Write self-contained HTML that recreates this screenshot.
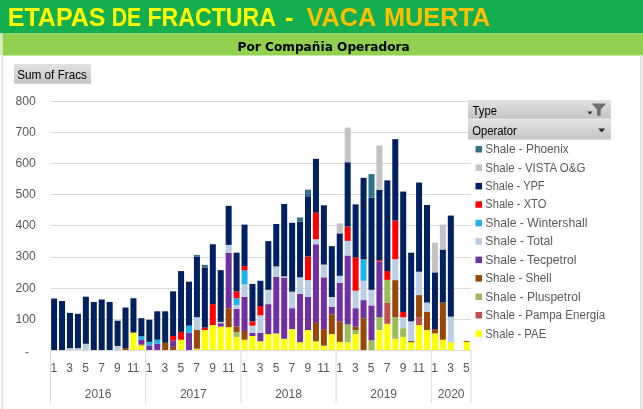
<!DOCTYPE html>
<html><head><meta charset="utf-8"><title>Etapas de Fractura - Vaca Muerta</title>
<style>
html,body{margin:0;padding:0;background:#fff;}
body{width:643px;height:409px;overflow:hidden;font-family:"Liberation Sans",sans-serif;}
svg{display:block;}
text{font-family:"Liberation Sans",sans-serif;}
.ax{fill:#595959;font-size:12px;}
.lg{fill:#595959;font-size:12px;}
.bt{fill:#000;font-size:12px;}
</style></head><body>
<svg width="643" height="409" viewBox="0 0 643 409">
<defs>
<linearGradient id="bg" x1="0" y1="0" x2="0" y2="1"><stop offset="0" stop-color="#e2e2e2"/><stop offset="1" stop-color="#c4c4c4"/></linearGradient>
</defs>
<rect x="0" y="0" width="643" height="409" fill="#ffffff"/>
<!-- header bands -->
<rect x="0" y="0" width="643" height="33.5" fill="#12AE50"/>
<rect x="2.5" y="33.5" width="640.5" height="22" fill="#92D050"/>
<!-- chart frame -->
<rect x="0" y="33.5" width="2.5" height="22" fill="#dbe9bd"/>
<rect x="1.2" y="55.5" width="2" height="353.5" fill="#e3e3e3"/>
<rect x="640.4" y="55.5" width="1.3" height="353.5" fill="#cfcfcf"/>
<rect x="641.7" y="55.5" width="1.3" height="353.5" fill="#f0f0f0"/>

<text x="7.8" y="25.7" textLength="97.6" lengthAdjust="spacingAndGlyphs" fill="#FFFF00" font-size="25" font-weight="bold">ETAPAS</text>
<text x="111.7" y="25.7" textLength="29.4" lengthAdjust="spacingAndGlyphs" fill="#FFFF00" font-size="25" font-weight="bold">DE</text>
<text x="147.4" y="25.7" textLength="128.6" lengthAdjust="spacingAndGlyphs" fill="#FFFF00" font-size="25" font-weight="bold">FRACTURA</text>
<text x="284.9" y="25.7" textLength="8.4" lengthAdjust="spacingAndGlyphs" fill="#FFFF00" font-size="25" font-weight="bold">-</text>
<text x="306.6" y="25.7" textLength="69.6" lengthAdjust="spacingAndGlyphs" fill="#FFC000" font-size="25" font-weight="bold">VACA</text>
<text x="384.0" y="25.7" textLength="106.2" lengthAdjust="spacingAndGlyphs" fill="#FFC000" font-size="25" font-weight="bold">MUERTA</text>
<text x="237.5" y="50.6" textLength="172.3" lengthAdjust="spacingAndGlyphs" fill="#000" font-size="12" font-weight="bold" style="font-family:'DejaVu Sans','Liberation Sans',sans-serif">Por Compañia Operadora</text>
<g stroke="#d9d9d9" stroke-width="1">
<line x1="50.5" y1="319.5" x2="471.0" y2="319.5"/>
<line x1="50.5" y1="288.5" x2="471.0" y2="288.5"/>
<line x1="50.5" y1="257.5" x2="471.0" y2="257.5"/>
<line x1="50.5" y1="225.5" x2="471.0" y2="225.5"/>
<line x1="50.5" y1="194.5" x2="471.0" y2="194.5"/>
<line x1="50.5" y1="163.5" x2="471.0" y2="163.5"/>
<line x1="50.5" y1="132.5" x2="471.0" y2="132.5"/>
<line x1="50.5" y1="101.5" x2="471.0" y2="101.5"/>
</g>
<line x1="50.5" y1="350.6" x2="471.0" y2="350.6" stroke="#d9d9d9" stroke-width="1"/>
<g shape-rendering="auto">
<rect x="51.12" y="298.54" width="6.0" height="51.46" fill="#002060"/>
<rect x="59.05" y="301.03" width="6.0" height="48.97" fill="#002060"/>
<rect x="66.98" y="348.13" width="6.0" height="1.87" fill="#B9CDE5"/>
<rect x="66.98" y="312.88" width="6.0" height="35.24" fill="#002060"/>
<rect x="74.92" y="348.13" width="6.0" height="1.87" fill="#B9CDE5"/>
<rect x="74.92" y="313.82" width="6.0" height="34.31" fill="#002060"/>
<rect x="82.85" y="343.76" width="6.0" height="6.24" fill="#B9CDE5"/>
<rect x="82.85" y="296.67" width="6.0" height="47.10" fill="#002060"/>
<rect x="90.79" y="301.97" width="6.0" height="48.03" fill="#002060"/>
<rect x="98.72" y="299.47" width="6.0" height="50.53" fill="#002060"/>
<rect x="106.65" y="301.97" width="6.0" height="48.03" fill="#002060"/>
<rect x="114.59" y="345.95" width="6.0" height="4.05" fill="#B9CDE5"/>
<rect x="114.59" y="320.68" width="6.0" height="25.26" fill="#002060"/>
<rect x="122.52" y="348.13" width="6.0" height="1.87" fill="#974706"/>
<rect x="122.52" y="307.58" width="6.0" height="40.55" fill="#002060"/>
<rect x="130.46" y="332.53" width="6.0" height="17.47" fill="#FFFF00"/>
<rect x="130.46" y="298.22" width="6.0" height="34.31" fill="#002060"/>
<rect x="138.39" y="345.32" width="6.0" height="4.68" fill="#FFFF00"/>
<rect x="138.39" y="344.39" width="6.0" height="0.94" fill="#974706"/>
<rect x="138.39" y="339.40" width="6.0" height="4.99" fill="#7030A0"/>
<rect x="138.39" y="336.28" width="6.0" height="3.12" fill="#1EB1ED"/>
<rect x="138.39" y="318.19" width="6.0" height="18.09" fill="#002060"/>
<rect x="146.32" y="345.32" width="6.0" height="4.68" fill="#7030A0"/>
<rect x="146.32" y="341.89" width="6.0" height="3.43" fill="#1EB1ED"/>
<rect x="146.32" y="319.75" width="6.0" height="22.14" fill="#002060"/>
<rect x="154.26" y="343.76" width="6.0" height="6.24" fill="#7030A0"/>
<rect x="154.26" y="339.71" width="6.0" height="4.05" fill="#1EB1ED"/>
<rect x="154.26" y="311.32" width="6.0" height="28.38" fill="#002060"/>
<rect x="162.19" y="342.83" width="6.0" height="7.17" fill="#974706"/>
<rect x="162.19" y="311.32" width="6.0" height="31.50" fill="#002060"/>
<rect x="170.13" y="346.88" width="6.0" height="3.12" fill="#974706"/>
<rect x="170.13" y="340.33" width="6.0" height="6.55" fill="#7030A0"/>
<rect x="170.13" y="335.96" width="6.0" height="4.37" fill="#FF0000"/>
<rect x="170.13" y="291.36" width="6.0" height="44.60" fill="#002060"/>
<rect x="178.06" y="339.71" width="6.0" height="10.29" fill="#FFFF00"/>
<rect x="178.06" y="331.91" width="6.0" height="7.80" fill="#FF0000"/>
<rect x="178.06" y="271.09" width="6.0" height="60.82" fill="#002060"/>
<rect x="185.99" y="332.85" width="6.0" height="17.15" fill="#7030A0"/>
<rect x="185.99" y="325.67" width="6.0" height="7.17" fill="#1EB1ED"/>
<rect x="185.99" y="281.69" width="6.0" height="43.98" fill="#002060"/>
<rect x="193.93" y="348.75" width="6.0" height="1.25" fill="#FFFF00"/>
<rect x="193.93" y="330.04" width="6.0" height="18.71" fill="#974706"/>
<rect x="193.93" y="317.25" width="6.0" height="12.79" fill="#B9CDE5"/>
<rect x="193.93" y="256.43" width="6.0" height="60.82" fill="#002060"/>
<rect x="193.93" y="254.87" width="6.0" height="1.56" fill="#31748A"/>
<rect x="201.86" y="330.04" width="6.0" height="19.96" fill="#FFFF00"/>
<rect x="201.86" y="327.54" width="6.0" height="2.50" fill="#FF0000"/>
<rect x="201.86" y="267.97" width="6.0" height="59.57" fill="#002060"/>
<rect x="201.86" y="264.85" width="6.0" height="3.12" fill="#31748A"/>
<rect x="209.80" y="325.05" width="6.0" height="24.95" fill="#FFFF00"/>
<rect x="209.80" y="304.15" width="6.0" height="20.90" fill="#FF0000"/>
<rect x="209.80" y="244.27" width="6.0" height="59.88" fill="#002060"/>
<rect x="217.73" y="326.61" width="6.0" height="23.39" fill="#FFFF00"/>
<rect x="217.73" y="323.18" width="6.0" height="3.43" fill="#7030A0"/>
<rect x="217.73" y="321.93" width="6.0" height="1.25" fill="#B9CDE5"/>
<rect x="217.73" y="270.15" width="6.0" height="51.78" fill="#002060"/>
<rect x="225.66" y="327.23" width="6.0" height="22.77" fill="#FFFF00"/>
<rect x="225.66" y="308.21" width="6.0" height="19.03" fill="#974706"/>
<rect x="225.66" y="252.69" width="6.0" height="55.52" fill="#7030A0"/>
<rect x="225.66" y="244.89" width="6.0" height="7.80" fill="#B9CDE5"/>
<rect x="225.66" y="205.90" width="6.0" height="38.99" fill="#002060"/>
<rect x="233.60" y="336.90" width="6.0" height="13.10" fill="#FFFF00"/>
<rect x="233.60" y="331.91" width="6.0" height="4.99" fill="#9BBB59"/>
<rect x="233.60" y="326.61" width="6.0" height="5.30" fill="#974706"/>
<rect x="233.60" y="308.83" width="6.0" height="17.78" fill="#7030A0"/>
<rect x="233.60" y="305.09" width="6.0" height="3.74" fill="#B9CDE5"/>
<rect x="233.60" y="298.22" width="6.0" height="6.86" fill="#1EB1ED"/>
<rect x="233.60" y="291.36" width="6.0" height="6.86" fill="#FF0000"/>
<rect x="233.60" y="252.69" width="6.0" height="38.68" fill="#002060"/>
<rect x="241.53" y="339.71" width="6.0" height="10.29" fill="#FFFF00"/>
<rect x="241.53" y="330.97" width="6.0" height="8.73" fill="#974706"/>
<rect x="241.53" y="296.98" width="6.0" height="34.00" fill="#7030A0"/>
<rect x="241.53" y="284.50" width="6.0" height="12.48" fill="#B9CDE5"/>
<rect x="241.53" y="270.47" width="6.0" height="14.04" fill="#1EB1ED"/>
<rect x="241.53" y="266.10" width="6.0" height="4.37" fill="#FF0000"/>
<rect x="241.53" y="224.62" width="6.0" height="41.48" fill="#002060"/>
<rect x="249.47" y="335.96" width="6.0" height="14.04" fill="#FFFF00"/>
<rect x="249.47" y="332.85" width="6.0" height="3.12" fill="#7030A0"/>
<rect x="249.47" y="325.67" width="6.0" height="7.17" fill="#B9CDE5"/>
<rect x="249.47" y="321.31" width="6.0" height="4.37" fill="#FF0000"/>
<rect x="249.47" y="283.88" width="6.0" height="37.43" fill="#002060"/>
<rect x="257.40" y="341.27" width="6.0" height="8.73" fill="#FFFF00"/>
<rect x="257.40" y="332.85" width="6.0" height="8.42" fill="#7030A0"/>
<rect x="257.40" y="315.38" width="6.0" height="17.47" fill="#B9CDE5"/>
<rect x="257.40" y="306.02" width="6.0" height="9.36" fill="#FF0000"/>
<rect x="257.40" y="280.76" width="6.0" height="25.26" fill="#002060"/>
<rect x="265.33" y="334.09" width="6.0" height="15.91" fill="#FFFF00"/>
<rect x="265.33" y="304.15" width="6.0" height="29.94" fill="#7030A0"/>
<rect x="265.33" y="289.80" width="6.0" height="14.35" fill="#B9CDE5"/>
<rect x="265.33" y="241.15" width="6.0" height="48.66" fill="#002060"/>
<rect x="273.27" y="333.47" width="6.0" height="16.53" fill="#FFFF00"/>
<rect x="273.27" y="276.70" width="6.0" height="56.77" fill="#7030A0"/>
<rect x="273.27" y="266.41" width="6.0" height="10.29" fill="#B9CDE5"/>
<rect x="273.27" y="223.99" width="6.0" height="42.42" fill="#002060"/>
<rect x="281.20" y="338.77" width="6.0" height="11.23" fill="#FFFF00"/>
<rect x="281.20" y="277.64" width="6.0" height="61.13" fill="#7030A0"/>
<rect x="281.20" y="276.39" width="6.0" height="1.25" fill="#B9CDE5"/>
<rect x="281.20" y="204.03" width="6.0" height="72.36" fill="#002060"/>
<rect x="289.14" y="329.10" width="6.0" height="20.90" fill="#FFFF00"/>
<rect x="289.14" y="308.21" width="6.0" height="20.90" fill="#7030A0"/>
<rect x="289.14" y="291.67" width="6.0" height="16.53" fill="#B9CDE5"/>
<rect x="289.14" y="222.74" width="6.0" height="68.93" fill="#002060"/>
<rect x="297.07" y="342.20" width="6.0" height="7.80" fill="#FFFF00"/>
<rect x="297.07" y="293.86" width="6.0" height="48.34" fill="#7030A0"/>
<rect x="297.07" y="277.33" width="6.0" height="16.53" fill="#B9CDE5"/>
<rect x="297.07" y="221.50" width="6.0" height="55.83" fill="#002060"/>
<rect x="297.07" y="217.44" width="6.0" height="4.05" fill="#31748A"/>
<rect x="305.00" y="330.04" width="6.0" height="19.96" fill="#FFFF00"/>
<rect x="305.00" y="296.98" width="6.0" height="33.06" fill="#7030A0"/>
<rect x="305.00" y="280.13" width="6.0" height="16.84" fill="#B9CDE5"/>
<rect x="305.00" y="256.43" width="6.0" height="23.70" fill="#FF0000"/>
<rect x="305.00" y="196.23" width="6.0" height="60.20" fill="#002060"/>
<rect x="305.00" y="189.68" width="6.0" height="6.55" fill="#31748A"/>
<rect x="312.94" y="341.27" width="6.0" height="8.73" fill="#FFFF00"/>
<rect x="312.94" y="322.86" width="6.0" height="18.40" fill="#974706"/>
<rect x="312.94" y="244.27" width="6.0" height="78.60" fill="#7030A0"/>
<rect x="312.94" y="239.28" width="6.0" height="4.99" fill="#B9CDE5"/>
<rect x="312.94" y="212.76" width="6.0" height="26.51" fill="#FF0000"/>
<rect x="312.94" y="158.81" width="6.0" height="53.96" fill="#002060"/>
<rect x="320.87" y="345.63" width="6.0" height="4.37" fill="#FFFF00"/>
<rect x="320.87" y="329.10" width="6.0" height="16.53" fill="#974706"/>
<rect x="320.87" y="277.33" width="6.0" height="51.78" fill="#7030A0"/>
<rect x="320.87" y="264.54" width="6.0" height="12.79" fill="#B9CDE5"/>
<rect x="320.87" y="205.28" width="6.0" height="59.26" fill="#002060"/>
<rect x="328.81" y="334.09" width="6.0" height="15.91" fill="#FFFF00"/>
<rect x="328.81" y="314.44" width="6.0" height="19.65" fill="#974706"/>
<rect x="328.81" y="306.96" width="6.0" height="7.49" fill="#7030A0"/>
<rect x="328.81" y="296.98" width="6.0" height="9.98" fill="#B9CDE5"/>
<rect x="328.81" y="246.14" width="6.0" height="50.84" fill="#002060"/>
<rect x="336.74" y="341.89" width="6.0" height="8.11" fill="#FFFF00"/>
<rect x="336.74" y="321.31" width="6.0" height="20.59" fill="#974706"/>
<rect x="336.74" y="282.94" width="6.0" height="38.36" fill="#7030A0"/>
<rect x="336.74" y="275.77" width="6.0" height="7.17" fill="#B9CDE5"/>
<rect x="336.74" y="233.35" width="6.0" height="42.42" fill="#002060"/>
<rect x="336.74" y="223.37" width="6.0" height="9.98" fill="#C3C3C3"/>
<rect x="344.67" y="342.20" width="6.0" height="7.80" fill="#FFFF00"/>
<rect x="344.67" y="324.42" width="6.0" height="17.78" fill="#9BBB59"/>
<rect x="344.67" y="255.49" width="6.0" height="68.93" fill="#7030A0"/>
<rect x="344.67" y="240.83" width="6.0" height="14.66" fill="#B9CDE5"/>
<rect x="344.67" y="226.49" width="6.0" height="14.35" fill="#FF0000"/>
<rect x="344.67" y="162.24" width="6.0" height="64.25" fill="#002060"/>
<rect x="344.67" y="127.62" width="6.0" height="34.62" fill="#C3C3C3"/>
<rect x="352.61" y="334.09" width="6.0" height="15.91" fill="#FFFF00"/>
<rect x="352.61" y="330.04" width="6.0" height="4.05" fill="#9BBB59"/>
<rect x="352.61" y="326.61" width="6.0" height="3.43" fill="#974706"/>
<rect x="352.61" y="308.21" width="6.0" height="18.40" fill="#7030A0"/>
<rect x="352.61" y="290.74" width="6.0" height="17.47" fill="#B9CDE5"/>
<rect x="352.61" y="257.37" width="6.0" height="33.37" fill="#FF0000"/>
<rect x="352.61" y="204.34" width="6.0" height="53.02" fill="#002060"/>
<rect x="360.54" y="318.19" width="6.0" height="31.81" fill="#974706"/>
<rect x="360.54" y="300.10" width="6.0" height="18.09" fill="#7030A0"/>
<rect x="360.54" y="280.76" width="6.0" height="19.34" fill="#B9CDE5"/>
<rect x="360.54" y="259.24" width="6.0" height="21.52" fill="#1EB1ED"/>
<rect x="360.54" y="177.83" width="6.0" height="81.41" fill="#002060"/>
<rect x="368.48" y="340.33" width="6.0" height="9.67" fill="#9BBB59"/>
<rect x="368.48" y="305.40" width="6.0" height="34.93" fill="#7030A0"/>
<rect x="368.48" y="289.80" width="6.0" height="15.60" fill="#B9CDE5"/>
<rect x="368.48" y="197.79" width="6.0" height="92.01" fill="#002060"/>
<rect x="368.48" y="174.09" width="6.0" height="23.70" fill="#31748A"/>
<rect x="376.41" y="330.04" width="6.0" height="19.96" fill="#FFFF00"/>
<rect x="376.41" y="317.25" width="6.0" height="12.79" fill="#9BBB59"/>
<rect x="376.41" y="261.42" width="6.0" height="55.83" fill="#7030A0"/>
<rect x="376.41" y="260.17" width="6.0" height="1.25" fill="#FF0000"/>
<rect x="376.41" y="189.68" width="6.0" height="70.49" fill="#002060"/>
<rect x="376.41" y="145.39" width="6.0" height="44.29" fill="#C3C3C3"/>
<rect x="384.34" y="323.80" width="6.0" height="26.20" fill="#FFFF00"/>
<rect x="384.34" y="302.59" width="6.0" height="21.21" fill="#C0504D"/>
<rect x="384.34" y="279.82" width="6.0" height="22.77" fill="#9BBB59"/>
<rect x="384.34" y="271.09" width="6.0" height="8.73" fill="#FF0000"/>
<rect x="384.34" y="180.33" width="6.0" height="90.76" fill="#002060"/>
<rect x="392.28" y="338.77" width="6.0" height="11.23" fill="#FFFF00"/>
<rect x="392.28" y="317.25" width="6.0" height="21.52" fill="#9BBB59"/>
<rect x="392.28" y="280.13" width="6.0" height="37.12" fill="#974706"/>
<rect x="392.28" y="259.24" width="6.0" height="20.90" fill="#B9CDE5"/>
<rect x="392.28" y="220.56" width="6.0" height="38.68" fill="#FF0000"/>
<rect x="392.28" y="139.16" width="6.0" height="81.41" fill="#002060"/>
<rect x="400.21" y="336.90" width="6.0" height="13.10" fill="#FFFF00"/>
<rect x="400.21" y="328.17" width="6.0" height="8.73" fill="#9BBB59"/>
<rect x="400.21" y="317.25" width="6.0" height="10.92" fill="#B9CDE5"/>
<rect x="400.21" y="311.95" width="6.0" height="5.30" fill="#FF0000"/>
<rect x="400.21" y="191.55" width="6.0" height="120.39" fill="#002060"/>
<rect x="408.15" y="342.20" width="6.0" height="7.80" fill="#FFFF00"/>
<rect x="408.15" y="340.95" width="6.0" height="1.25" fill="#974706"/>
<rect x="408.15" y="321.31" width="6.0" height="19.65" fill="#B9CDE5"/>
<rect x="408.15" y="252.69" width="6.0" height="68.62" fill="#002060"/>
<rect x="416.08" y="325.05" width="6.0" height="24.95" fill="#FFFF00"/>
<rect x="416.08" y="317.25" width="6.0" height="7.80" fill="#C0504D"/>
<rect x="416.08" y="295.11" width="6.0" height="22.14" fill="#974706"/>
<rect x="416.08" y="271.71" width="6.0" height="23.39" fill="#B9CDE5"/>
<rect x="416.08" y="182.51" width="6.0" height="89.20" fill="#002060"/>
<rect x="424.01" y="330.04" width="6.0" height="19.96" fill="#FFFF00"/>
<rect x="424.01" y="311.95" width="6.0" height="18.09" fill="#974706"/>
<rect x="424.01" y="302.59" width="6.0" height="9.36" fill="#B9CDE5"/>
<rect x="424.01" y="204.97" width="6.0" height="97.62" fill="#002060"/>
<rect x="431.95" y="333.47" width="6.0" height="16.53" fill="#FFFF00"/>
<rect x="431.95" y="329.10" width="6.0" height="4.37" fill="#974706"/>
<rect x="431.95" y="272.34" width="6.0" height="56.77" fill="#002060"/>
<rect x="431.95" y="242.71" width="6.0" height="29.63" fill="#C3C3C3"/>
<rect x="439.88" y="339.71" width="6.0" height="10.29" fill="#FFFF00"/>
<rect x="439.88" y="302.59" width="6.0" height="37.12" fill="#974706"/>
<rect x="439.88" y="249.57" width="6.0" height="53.02" fill="#002060"/>
<rect x="439.88" y="224.62" width="6.0" height="24.95" fill="#C3C3C3"/>
<rect x="447.82" y="342.20" width="6.0" height="7.80" fill="#FFFF00"/>
<rect x="447.82" y="316.63" width="6.0" height="25.58" fill="#B9CDE5"/>
<rect x="447.82" y="215.57" width="6.0" height="101.06" fill="#002060"/>
<rect x="463.68" y="341.89" width="6.0" height="8.11" fill="#FFFF00"/>
<rect x="463.68" y="340.95" width="6.0" height="0.94" fill="#974706"/>
</g>
<g stroke="#d9d9d9" stroke-width="1">
<line x1="50.5" y1="350.5" x2="50.5" y2="403"/>
<line x1="145.7" y1="350.5" x2="145.7" y2="403"/>
<line x1="240.9" y1="350.5" x2="240.9" y2="403"/>
<line x1="336.1" y1="350.5" x2="336.1" y2="403"/>
<line x1="431.3" y1="350.5" x2="431.3" y2="403"/>
<line x1="471.0" y1="350.5" x2="471.0" y2="403"/>
</g>
<text class="ax" x="35.8" y="322.8" text-anchor="end" textLength="20.4" lengthAdjust="spacingAndGlyphs">100</text>
<text class="ax" x="35.8" y="291.6" text-anchor="end" textLength="20.4" lengthAdjust="spacingAndGlyphs">200</text>
<text class="ax" x="35.8" y="260.4" text-anchor="end" textLength="20.4" lengthAdjust="spacingAndGlyphs">300</text>
<text class="ax" x="35.8" y="229.2" text-anchor="end" textLength="20.4" lengthAdjust="spacingAndGlyphs">400</text>
<text class="ax" x="35.8" y="198.0" text-anchor="end" textLength="20.4" lengthAdjust="spacingAndGlyphs">500</text>
<text class="ax" x="35.8" y="166.9" text-anchor="end" textLength="20.4" lengthAdjust="spacingAndGlyphs">600</text>
<text class="ax" x="35.8" y="135.7" text-anchor="end" textLength="20.4" lengthAdjust="spacingAndGlyphs">700</text>
<text class="ax" x="35.8" y="104.5" text-anchor="end" textLength="20.4" lengthAdjust="spacingAndGlyphs">800</text>
<text class="ax" x="27" y="355.6" text-anchor="middle">-</text>
<text class="ax" x="53.9" y="371.5" text-anchor="middle">1</text>
<text class="ax" x="69.7" y="371.5" text-anchor="middle">3</text>
<text class="ax" x="85.6" y="371.5" text-anchor="middle">5</text>
<text class="ax" x="101.5" y="371.5" text-anchor="middle">7</text>
<text class="ax" x="117.3" y="371.5" text-anchor="middle">9</text>
<text class="ax" x="133.2" y="371.5" text-anchor="middle">11</text>
<text class="ax" x="149.1" y="371.5" text-anchor="middle">1</text>
<text class="ax" x="164.9" y="371.5" text-anchor="middle">3</text>
<text class="ax" x="180.8" y="371.5" text-anchor="middle">5</text>
<text class="ax" x="196.7" y="371.5" text-anchor="middle">7</text>
<text class="ax" x="212.5" y="371.5" text-anchor="middle">9</text>
<text class="ax" x="228.4" y="371.5" text-anchor="middle">11</text>
<text class="ax" x="244.3" y="371.5" text-anchor="middle">1</text>
<text class="ax" x="260.1" y="371.5" text-anchor="middle">3</text>
<text class="ax" x="276.0" y="371.5" text-anchor="middle">5</text>
<text class="ax" x="291.9" y="371.5" text-anchor="middle">7</text>
<text class="ax" x="307.8" y="371.5" text-anchor="middle">9</text>
<text class="ax" x="323.6" y="371.5" text-anchor="middle">11</text>
<text class="ax" x="339.5" y="371.5" text-anchor="middle">1</text>
<text class="ax" x="355.4" y="371.5" text-anchor="middle">3</text>
<text class="ax" x="371.2" y="371.5" text-anchor="middle">5</text>
<text class="ax" x="387.1" y="371.5" text-anchor="middle">7</text>
<text class="ax" x="403.0" y="371.5" text-anchor="middle">9</text>
<text class="ax" x="418.8" y="371.5" text-anchor="middle">11</text>
<text class="ax" x="434.7" y="371.5" text-anchor="middle">1</text>
<text class="ax" x="450.6" y="371.5" text-anchor="middle">3</text>
<text class="ax" x="466.4" y="371.5" text-anchor="middle">5</text>
<text class="ax" x="98.1" y="397.5" text-anchor="middle">2016</text>
<text class="ax" x="193.3" y="397.5" text-anchor="middle">2017</text>
<text class="ax" x="288.5" y="397.5" text-anchor="middle">2018</text>
<text class="ax" x="383.7" y="397.5" text-anchor="middle">2019</text>
<text class="ax" x="451.2" y="397.5" text-anchor="middle">2020</text>
<rect x="14" y="64" width="77" height="19.7" fill="url(#bg)"/>
<text class="bt" x="17.2" y="79.3" textLength="69.8" lengthAdjust="spacingAndGlyphs">Sum of Fracs</text>
<rect x="468" y="100" width="142.9" height="39.5" fill="#ebebeb"/>
<rect x="468" y="100" width="142.9" height="18.6" fill="url(#bg)"/>
<rect x="468" y="119.6" width="142.9" height="19.9" fill="url(#bg)"/>
<text class="bt" x="472.6" y="114.5" textLength="24.4" lengthAdjust="spacingAndGlyphs">Type</text>
<text class="bt" x="472.2" y="134.9" textLength="44.6" lengthAdjust="spacingAndGlyphs">Operator</text>
<path d="M587.3 111.6 L592.5 111.6 L589.9 114.6 Z" fill="#2a2a2a"/>
<path d="M592.5 103.6 L605.4 103.6 L605.4 104.6 L600.7 109.6 L600.7 115.8 L597 115.8 L597 109.6 L592.5 104.6 Z" fill="#6f6f6f"/>
<path d="M598.2 128.6 L605.2 128.6 L601.7 132.4 Z" fill="#2a2a2a"/>
<rect x="475.5" y="146.0" width="6.5" height="6.5" fill="#31748A"/>
<text class="lg" x="485.3" y="153.1" textLength="83.4" lengthAdjust="spacingAndGlyphs">Shale - Phoenix</text>
<rect x="475.5" y="164.4" width="6.5" height="6.5" fill="#C3C3C3"/>
<text class="lg" x="485.3" y="171.5" textLength="100.1" lengthAdjust="spacingAndGlyphs">Shale - VISTA O&amp;G</text>
<rect x="475.5" y="182.9" width="6.5" height="6.5" fill="#002060"/>
<text class="lg" x="485.3" y="190.0" textLength="59.3" lengthAdjust="spacingAndGlyphs">Shale - YPF</text>
<rect x="475.5" y="201.3" width="6.5" height="6.5" fill="#FF0000"/>
<text class="lg" x="485.3" y="208.4" textLength="61.0" lengthAdjust="spacingAndGlyphs">Shale - XTO</text>
<rect x="475.5" y="219.8" width="6.5" height="6.5" fill="#1EB1ED"/>
<text class="lg" x="485.3" y="226.9" textLength="102.1" lengthAdjust="spacingAndGlyphs">Shale - Wintershall</text>
<rect x="475.5" y="238.2" width="6.5" height="6.5" fill="#B9CDE5"/>
<text class="lg" x="485.3" y="245.3" textLength="67.6" lengthAdjust="spacingAndGlyphs">Shale - Total</text>
<rect x="475.5" y="256.6" width="6.5" height="6.5" fill="#7030A0"/>
<text class="lg" x="485.3" y="263.7" textLength="91.2" lengthAdjust="spacingAndGlyphs">Shale - Tecpetrol</text>
<rect x="475.5" y="275.1" width="6.5" height="6.5" fill="#974706"/>
<text class="lg" x="485.3" y="282.2" textLength="66.2" lengthAdjust="spacingAndGlyphs">Shale - Shell</text>
<rect x="475.5" y="293.5" width="6.5" height="6.5" fill="#9BBB59"/>
<text class="lg" x="485.3" y="300.6" textLength="95.3" lengthAdjust="spacingAndGlyphs">Shale - Pluspetrol</text>
<rect x="475.5" y="312.0" width="6.5" height="6.5" fill="#C0504D"/>
<text class="lg" x="485.3" y="319.1" textLength="120.0" lengthAdjust="spacingAndGlyphs">Shale - Pampa Energia</text>
<rect x="475.5" y="330.4" width="6.5" height="6.5" fill="#FFFF00"/>
<text class="lg" x="485.3" y="337.5" textLength="60.9" lengthAdjust="spacingAndGlyphs">Shale - PAE</text>
</svg></body></html>
